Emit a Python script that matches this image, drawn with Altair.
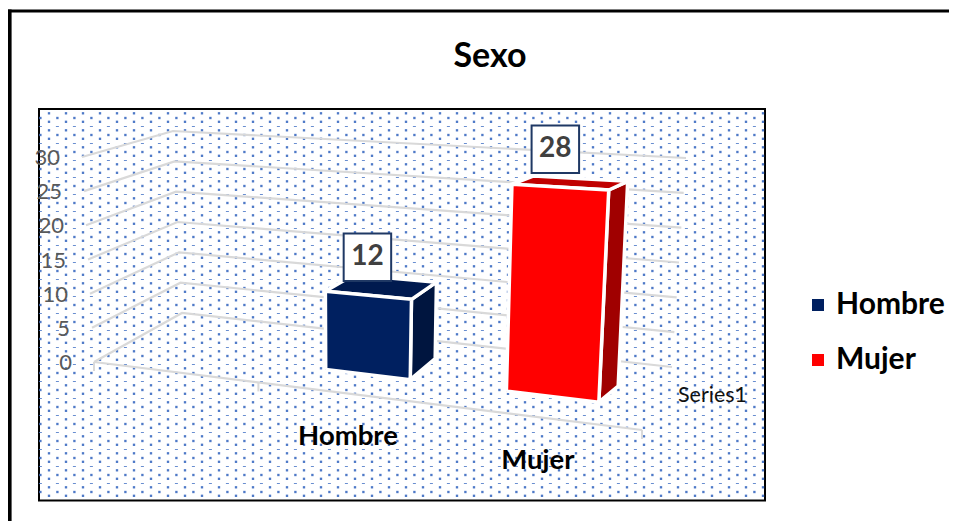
import altair as alt
import numpy as np
import pandas as pd

# ---- chart values ----
title_text = "Sexo"
categories = ["Hombre", "Mujer"]
values = [12, 28]
tick_values = [0, 5, 10, 15, 20, 25, 30]
series_name = "Series1"

front_colors = ["#002060", "#FF0000"]
top_colors = ["#001A4F", "#C00000"]
side_colors = ["#00153F", "#A00000"]

# ---- view of the 3-D box ----
W, H = 941, 513
AXIS_MAX = 30
# (u: along the categories, w: depth) corners, at value 0 and at the axis maximum
CORNERS = {
    (0, 0): ((94, 362), (82, 157)),
    (0, 1): ((182, 313), (173, 131)),
    (1, 0): ((642, 430), (658, 190)),
    (1, 1): ((672, 367), (686, 158)),
}
BAR_U = [(0.382, 0.542), (0.724, 0.899)]
BAR_W = [(0.34, 0.71), (0.34, 0.60)]
BAR_STRETCH = [0.935, 1.005]
BAR_LEAN = [0, -2]      # horizontal correction of a bar's top
BAR_DEPTH_DX = [4, 10]  # horizontal correction of a bar's back edge
BOX_NUDGE = [-1, -7]
LABEL_U = [0.4635, 0.81]


def project(u, v, w):
    t = v / AXIS_MAX
    total = np.zeros(2)
    for (cu, cw), (low, high) in CORNERS.items():
        weight = (u if cu else 1 - u) * (w if cw else 1 - w)
        total += weight * ((1 - t) * np.array(low) + t * np.array(high))
    return float(total[0]), float(total[1])


# grid lines: left wall + back wall for every tick, floor front edge and axis ticks
grid_rows = []
for level in tick_values:
    for i, (u, w) in enumerate([(0, 0), (0, 1), (1, 1)]):
        x, y = project(u, level, w)
        grid_rows.append(dict(line=f"g{level}", i=i, x=x, y=y))
for i, u in enumerate([0, 1]):
    x, y = project(u, 0, 0)
    grid_rows.append(dict(line="front", i=i, x=x, y=y))
grid = pd.DataFrame(grid_rows)

tick_rows = []
for u in [0, 0.3, 1]:
    x, y = project(u, 0, 0)
    tick_rows.append(dict(x=x, y=y, y2=y + 9))
ticks = pd.DataFrame(tick_rows)

axis_labels = pd.DataFrame(
    [dict(label=str(t), x=project(0, t, 0)[0], y=project(0, t, 0)[1]) for t in tick_values]
)

# bars
face_rows = []
box_rows = []
for k, (cat, val) in enumerate(zip(categories, values)):
    u1, u2 = BAR_U[k]
    w1, w2 = BAR_W[k]
    v = val * BAR_STRETCH[k]
    faces = {
        "front": [(u1, 0, w1), (u2, 0, w1), (u2, v, w1), (u1, v, w1)],
        "side": [(u2, 0, w1), (u2, 0, w2), (u2, v, w2), (u2, v, w1)],
        "top": [(u1, v, w1), (u2, v, w1), (u2, v, w2), (u1, v, w2)],
    }
    shade = {"front": front_colors[k], "side": side_colors[k], "top": top_colors[k]}
    for name, pts in faces.items():
        for i, p in enumerate(pts + pts[:1]):
            x, y = project(*p)
            x += BAR_LEAN[k] * (p[1] > 0) + BAR_DEPTH_DX[k] * (p[2] == w2)
            face_rows.append(dict(face=f"{cat}-{name}", kind=name, category=cat, shade=shade[name], i=i, x=x, y=y))
    x, y = project((u1 + u2) / 2, v, w1)
    box_rows.append(dict(category=cat, value=val, x=x + BOX_NUDGE[k], y=y))
faces_df = pd.DataFrame(face_rows)
boxes = pd.DataFrame(box_rows)

cat_labels = pd.DataFrame(
    [dict(label=c, x=project(u, 0, 0)[0], y=project(u, 0, 0)[1]) for c, u in zip(categories, LABEL_U)]
)

# dotted pattern of the plot panel
PX0, PX1, PY0, PY1 = 40, 765, 110, 500
dots, dashes = [], []
for cx in np.arange(712 - 17 * 40, PX1, 17.0):
    for n, cy in enumerate(np.arange(113.3 - 0, PY1, 8.5)):
        dots.append(dict(x=cx, y=cy))
for cx in np.arange(703.4 - 17 * 39, PX1, 17.0):
    for n, cy in enumerate(np.arange(118.0, PY1, 8.5)):
        (dots if n % 2 == 0 else dashes).append(dict(x=cx, y=cy))
dots = pd.DataFrame(dots)
dashes = pd.DataFrame(dashes)
dots = dots[(dots.x > PX0) & (dots.x < PX1 + 1)]
dashes = dashes[(dashes.x > PX0) & (dashes.x < PX1)]

X = alt.X("x:Q", scale=alt.Scale(domain=[8, 8 + W], range=[0, W], nice=False, zero=False), axis=None)
Y = alt.Y("y:Q", scale=alt.Scale(domain=[8, 8 + H], range=[0, H], nice=False, zero=False), axis=None)
X2 = alt.X2("x2:Q")
Y2 = alt.Y2("y2:Q")

FONT = "Lato"

panel = (
    alt.Chart(pd.DataFrame([dict(x=PX0 - 1, x2=PX1, y=109, y2=500.5)]))
    .mark_rect(fill="white", stroke="black", strokeWidth=2)
    .encode(x=X, x2=X2, y=Y, y2=Y2)
)
dot_layer = alt.Chart(dots).mark_square(size=5.5, color="#4472C4", opacity=0.95).encode(x=X, y=Y)
dash_layer = alt.Chart(dashes).mark_tick(orient="horizontal", size=3, thickness=1, color="#4472C4", opacity=0.8).encode(x=X, y=Y)

outer_v = (
    alt.Chart(pd.DataFrame([dict(x=9.8, y=9.5, y2=8 + H)]))
    .mark_rule(color="black", strokeWidth=3.6)
    .encode(x=X, y=Y, y2=Y2)
)
outer_h = (
    alt.Chart(pd.DataFrame([dict(x=8, x2=8 + W, y=11)]))
    .mark_rule(color="black", strokeWidth=3)
    .encode(x=X, x2=X2, y=Y)
)

grid_layer = (
    alt.Chart(grid)
    .mark_line(color="#D9D9D9", strokeWidth=2.2)
    .encode(x=X, y=Y, detail="line:N", order="i:Q")
)
tick_layer = alt.Chart(ticks).mark_rule(color="#D9D9D9", strokeWidth=2).encode(x=X, y=Y, y2=Y2)
tick_text = (
    alt.Chart(axis_labels)
    .mark_text(align="right", baseline="middle", dx=-22, dy=1, font=FONT, fontSize=22, color="#595959")
    .encode(x=X, y=Y, text="label:N")
)

shade_layers = [
    alt.Chart(faces_df[faces_df.shade == c])
    .mark_line(fill=c, stroke="white", strokeWidth=3.5, strokeJoin="miter")
    .encode(x=X, y=Y, detail="face:N", order="i:Q")
    for c in side_colors + top_colors
]
front_layer = (
    alt.Chart(faces_df[faces_df.kind == "front"])
    .mark_line(stroke="white", strokeWidth=3.5, strokeJoin="miter")
    .encode(
        x=X,
        y=Y,
        detail="face:N",
        order="i:Q",
        fill=alt.Fill(
            "category:N",
            scale=alt.Scale(domain=categories, range=front_colors),
            legend=alt.Legend(
                orient="none",
                legendX=795,
                legendY=282,
                title=None,
                symbolType="square",
                symbolSize=144,
                symbolStrokeWidth=0,
                labelFont=FONT,
                labelFontWeight="bold",
                labelFontSize=30,
                labelColor="black",
                labelOffset=3,
                rowPadding=25,
            ),
        ),
    )
)

box_layer = (
    alt.Chart(boxes)
    .mark_square(size=2256, fill="white", stroke="#1F3864", strokeWidth=2, opacity=1, yOffset=-38)
    .encode(x=X, y=Y)
)
box_text = (
    alt.Chart(boxes)
    .mark_text(font=FONT, fontWeight="bold", fontSize=28, color="#404040", baseline="middle", yOffset=-38)
    .encode(x=X, y=Y, text="value:Q")
)
cat_text = (
    alt.Chart(cat_labels)
    .mark_text(font=FONT, fontWeight="bold", fontSize=27.5, color="black", baseline="middle", dy=43.5)
    .encode(x=X, y=Y, text="label:N")
)
series_text = (
    alt.Chart(pd.DataFrame([dict(label=series_name, x=678, y=396)]))
    .mark_text(font=FONT, fontSize=21.5, color="#111111", align="left", baseline="middle")
    .encode(x=X, y=Y, text="label:N")
)
title_layer = (
    alt.Chart(pd.DataFrame([dict(label=title_text, x=490, y=57)]))
    .mark_text(font=FONT, fontWeight="bold", fontSize=34, color="black", baseline="middle")
    .encode(x=X, y=Y, text="label:N")
)

chart = alt.layer(
    panel, dot_layer, dash_layer, outer_v, outer_h, grid_layer, tick_layer, tick_text,
    *shade_layers, front_layer, box_layer, box_text, cat_text, series_text, title_layer,
).properties(width=W, height=H, padding=0, autosize=alt.AutoSizeParams(type="none")).configure_view(stroke=None)

chart.save("out.html", embed_options={"renderer": "svg", "actions": False})
